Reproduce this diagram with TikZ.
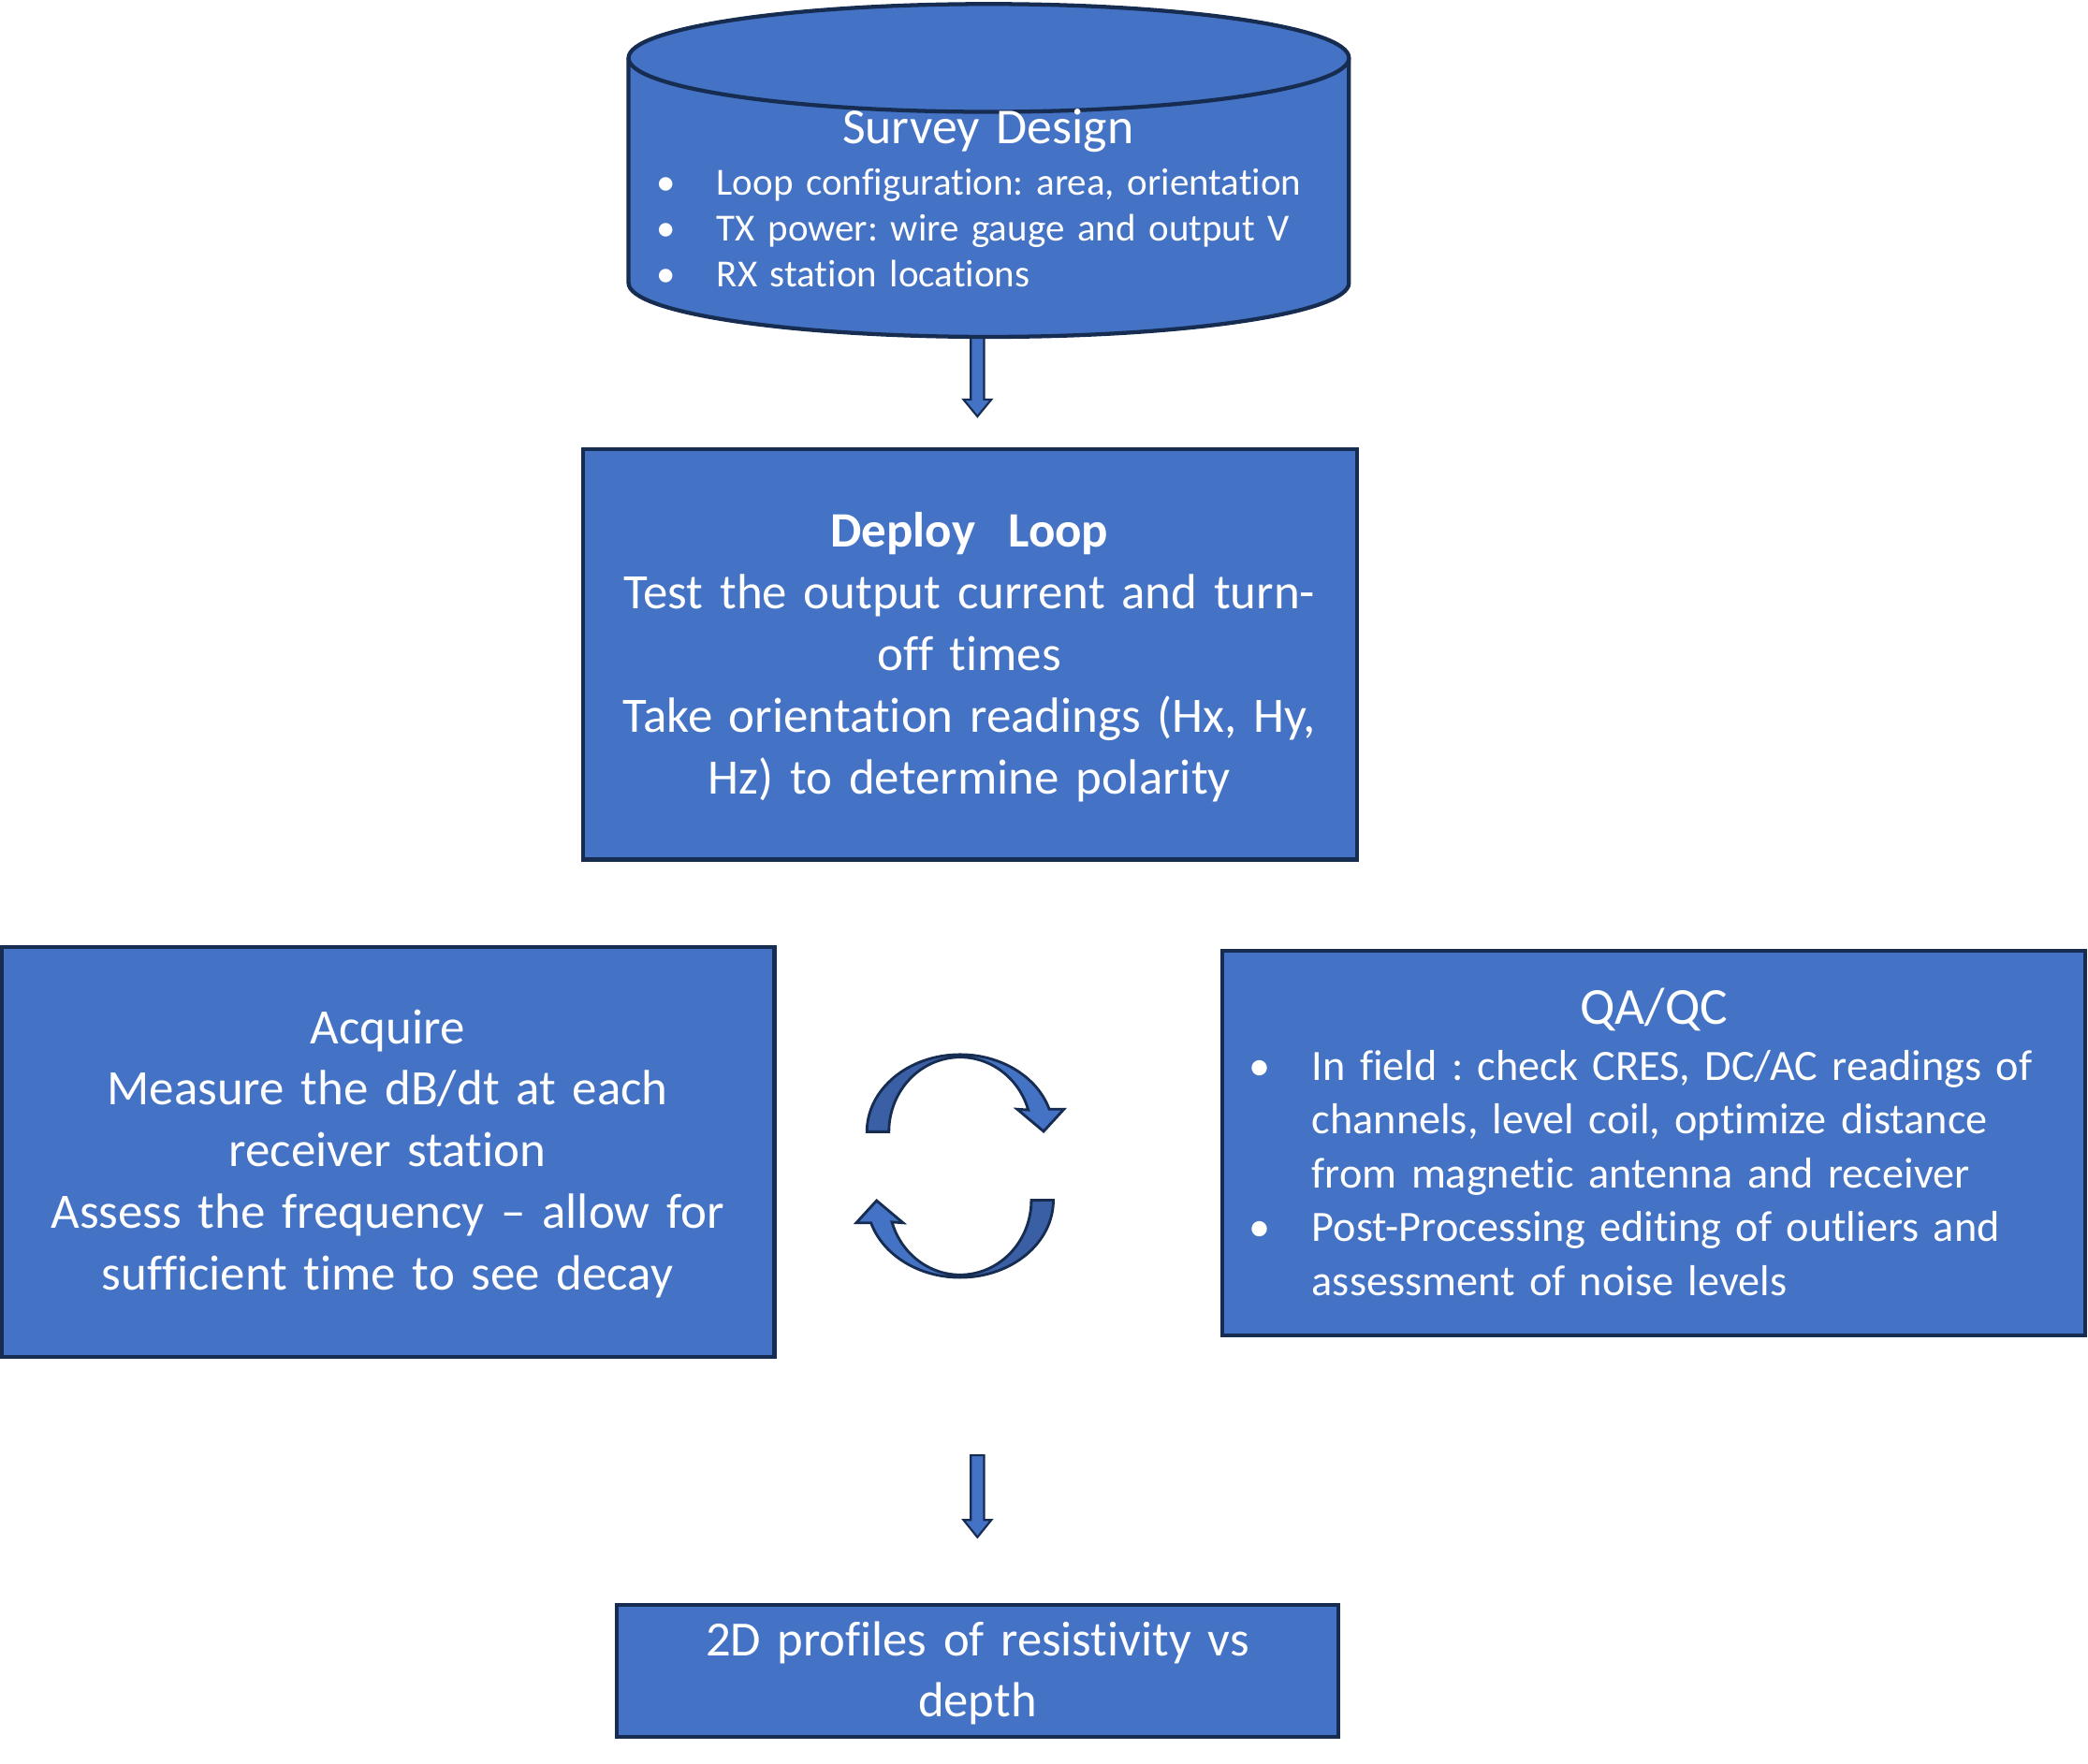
\documentclass[tikz,border=0pt]{standalone}
\usepackage{fontspec}
\setmainfont{Carlito}[Ligatures=NoCommon]
\frenchspacing
\usetikzlibrary{calc}
\definecolor{boxblue}{HTML}{4472C4}
\definecolor{boxline}{HTML}{172C51}
\definecolor{shadeblue}{HTML}{3A5FA5}
\tikzset{
  stagebox/.style={draw=boxline, fill=boxblue, line width=3pt, inner sep=0pt},
  stagetext/.style={text=white, inner sep=0pt, text width=#1, align=center},
  listtext/.style={text=white, inner sep=0pt, text width=#1, align=left},
  arrowbody/.style={draw=boxline, fill=boxblue, line width=1.5pt, line join=miter},
  bigfont/.style={font=\fontsize{37.2}{46.3}\selectfont},
}
\begin{document}
\begin{tikzpicture}[x=1pt, y=1pt]
  \useasboundingbox (0,0) rectangle (1568,-1324.8);
  % arrow below the survey design
  \coordinate (surveybottom) at (734,-251);
  \coordinate (surveytip) at (734,-312.8);
  \filldraw[arrowbody] ($(surveybottom)+(-5,0)$) -- ($(surveytip)+(-5,12.8)$) -- ($(surveytip)+(-10.5,12.8)$) -- (surveytip)
    -- ($(surveytip)+(10.5,12.8)$) -- ($(surveytip)+(5,12.8)$) -- ($(surveybottom)+(5,0)$) -- cycle;
  % survey design cylinder
  \fill[boxblue] (472,-43.5) -- (472,-212.5) arc[start angle=180, end angle=360, x radius=270.5, y radius=40.5]
    -- (1013,-43.5) arc[start angle=0, end angle=180, x radius=270.5, y radius=40.5] -- cycle;
  \draw[boxline, line width=3pt] (472,-43.5) -- (472,-212.5) arc[start angle=180, end angle=360, x radius=270.5, y radius=40.5] -- (1013,-43.5);
  \draw[boxline, line width=3pt] (742.5,-43.5) ellipse [x radius=270.5, y radius=40.5];
  \node[stagetext=500pt, anchor=base, font=\fontsize{37.8}{44}\selectfont] (surveytitle) at (742,-108.2) {Survey Design};
  \node[listtext=520pt, anchor=base west, font=\fontsize{28.8}{34.5}\selectfont] (surveylist) at (492.8,-146.2)
    {\makebox[45.2pt][l]{•}Loop configuration: area, orientation\\
     \makebox[45.2pt][l]{•}TX power: wire gauge and output V\\
     \makebox[45.2pt][l]{•}RX station locations};
  % boxes
  \node[stagebox, minimum width=581pt, minimum height=308pt] (deploy) at (728.5,-491.5) {};
  \node[stagebox, minimum width=580pt, minimum height=308pt] (acquire) at (291.5,-865) {};
  \node[stagebox, minimum width=648pt, minimum height=289pt] (qaqc) at (1242,-858.5) {};
  \node[stagebox, minimum width=542pt, minimum height=99pt] (result) at (734,-1255) {};
  \node[stagetext=570pt, anchor=base, bigfont] (deploytext) at (728,-411)
    {{\bfseries Deploy\ \ Loop}\\
     Test the output current and turn-\\
     off times\\
     Take orientation readings (Hx, Hy,\\
     Hz) to determine polarity};
  \node[stagetext=570pt, anchor=base, bigfont] (acquiretext) at (291,-783.7)
    {Acquire\\
     Measure the dB/dt at each\\
     receiver station\\
     Assess the frequency – allow for\\
     sufficient time to see decay};
  \node[stagetext=600pt, anchor=base, font=\fontsize{39}{46}\selectfont] (qaqctitle) at (1242,-768.9) {QA/QC};
  \node[listtext=620pt, anchor=base west, font=\fontsize{32.5}{40.4}\selectfont] (qaqclist) at (937.5,-811.1)
    {\makebox[47.5pt][l]{•}In field : check CRES, DC/AC readings of\\
     \hspace*{47.5pt}channels, level coil, optimize distance\\
     \hspace*{47.5pt}from magnetic antenna and receiver\\
     \makebox[47.5pt][l]{•}Post-Processing editing of outliers and\\
     \hspace*{47.5pt}assessment of noise levels};
  \node[stagetext=530pt, anchor=base, font=\fontsize{37}{46}\selectfont] (resulttext) at (734,-1243.3)
    {2D profiles of resistivity vs\\
     depth};
  % cycle arrows between acquire and qa/qc
  \coordinate (cyclemid) at (721,-875.7);
  \def\cyclepath{(651,-850) arc[start angle=180, end angle=17, x radius=70, y radius=58] -- (799,-833) -- (783.7,-849.7)
    -- (763.8,-833) -- (772.2,-833.6) arc[start angle=17, end angle=180, x radius=53.5, y radius=56] -- cycle}
  \def\cycleshade{(651,-850) arc[start angle=180, end angle=90, x radius=70, y radius=58] -- (721,-794)
    arc[start angle=90, end angle=180, x radius=53.5, y radius=56] -- cycle}
  \foreach \turn in {0,180}{
    \begin{scope}[rotate around={\turn:(cyclemid)}]
      \fill[boxblue] \cyclepath;
      \fill[shadeblue] \cycleshade;
      \draw[boxline, line width=2pt, line join=miter] \cyclepath;
    \end{scope}
  }
  % arrow to the result
  \coordinate (cycleend) at (734,-1093);
  \coordinate (resulttip) at (734,-1154.5);
  \filldraw[arrowbody] ($(cycleend)+(-5,0)$) -- ($(resulttip)+(-5,13)$) -- ($(resulttip)+(-10.5,13)$) -- (resulttip)
    -- ($(resulttip)+(10.5,13)$) -- ($(resulttip)+(5,13)$) -- ($(cycleend)+(5,0)$) -- cycle;
\end{tikzpicture}
\end{document}
